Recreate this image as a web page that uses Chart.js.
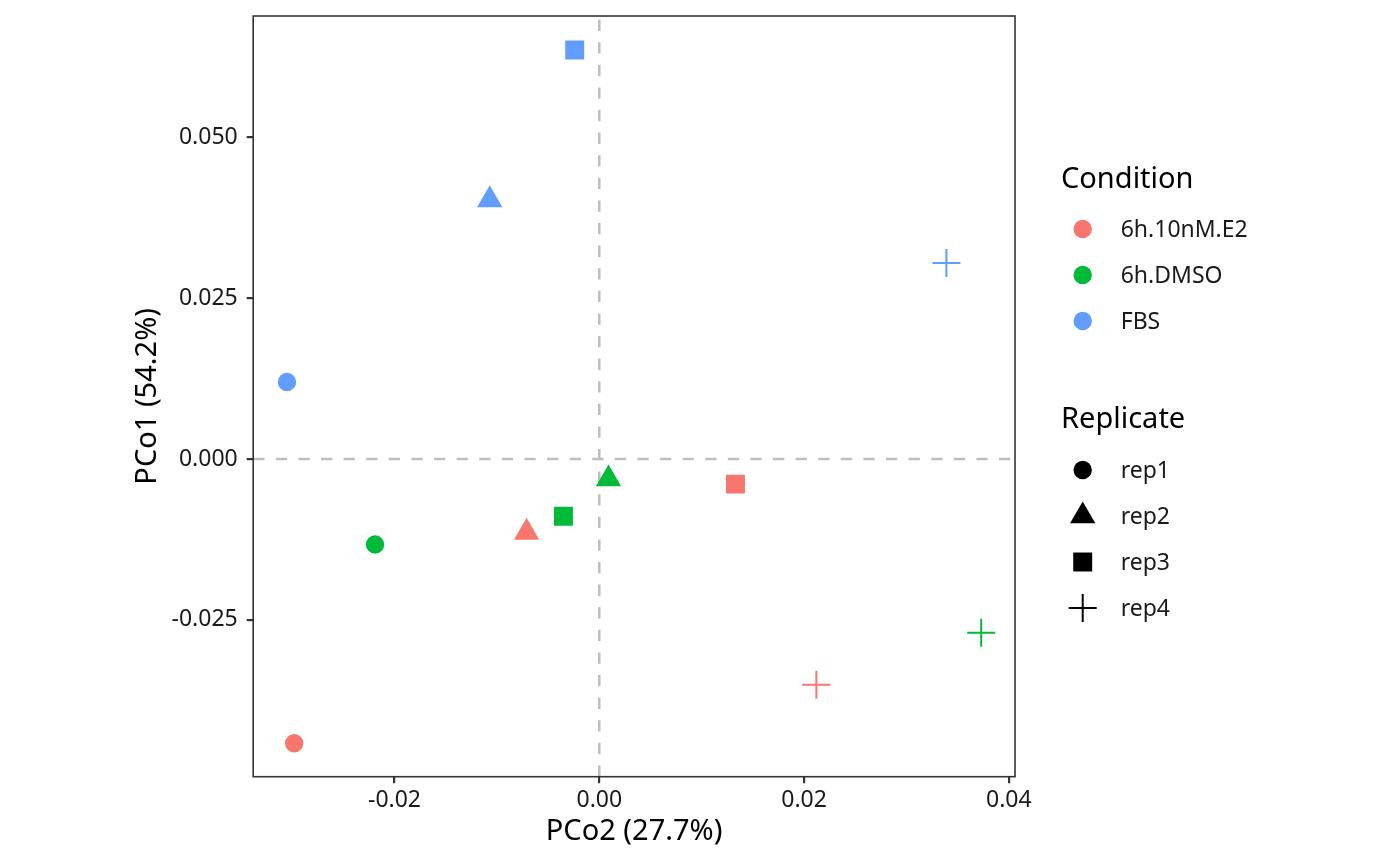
<!DOCTYPE html>
<html>
<head>
<meta charset="utf-8">
<script src="https://cdn.jsdelivr.net/npm/chart.js@4/dist/chart.umd.min.js"></script>
<style>
  html, body { margin: 0; padding: 0; background: #fff; }
  #wrap { width: 1400px; height: 866px; }
</style>
</head>
<body>
<div id="wrap"><canvas id="pcoa" width="1400" height="866"></canvas></div>
<script>
// PCoA scores, one pair of arrays per condition (rep1..rep4)
const conditions = ["6h.10nM.E2", "6h.DMSO", "FBS"];
const replicates = ["rep1", "rep2", "rep3", "rep4"];

const pco2E2   = [-0.0298, -0.0071,  0.0133,  0.0212];
const pco1E2   = [-0.0442, -0.0114, -0.0039, -0.0351];
const pco2DMSO = [-0.0219,  0.0009, -0.0035,  0.0373];
const pco1DMSO = [-0.0133, -0.0031, -0.0089, -0.0270];
const pco2FBS  = [-0.0305, -0.0107, -0.0024,  0.0339];
const pco1FBS  = [ 0.0120,  0.0403,  0.0636,  0.0305];

const xTicks = [-0.02, 0, 0.02, 0.04];
const yTicks = [-0.025, 0, 0.025, 0.05];
const xRange = [-0.0338, 0.0406];
const yRange = [-0.0494, 0.0689];

// styling
const COLORS = ["#F8766D", "#00BA38", "#619CFF"];
const SHAPES = ["circle", "triangle", "rect", "cross"];
const SHAPE_R = { circle: 9.2, triangle: 14.6, rect: 13.4, cross: 14 };
const FONT = "'Noto Sans', 'Open Sans', sans-serif";
const TICK_SIZE = 23;
const TITLE_SIZE = 29;

Chart.defaults.font.family = FONT;

const seriesX = [pco2E2, pco2DMSO, pco2FBS];
const seriesY = [pco1E2, pco1DMSO, pco1FBS];

const datasets = conditions.map((name, i) => ({
  label: name,
  data: seriesX[i].map((x, j) => ({ x: x, y: seriesY[i][j] })),
  pointStyle: SHAPES,
  pointRadius: SHAPES.map(s => SHAPE_R[s]),
  pointHoverRadius: SHAPES.map(s => SHAPE_R[s]),
  pointBackgroundColor: COLORS[i],
  pointBorderColor: COLORS[i],
  pointBorderWidth: SHAPES.map(s => s === "cross" ? 2 : 0),
  pointHoverBorderWidth: SHAPES.map(s => s === "cross" ? 2 : 0)
}));

// dashed lines through the origin, drawn under the points
const zeroLines = {
  id: "zeroLines",
  beforeDatasetsDraw(chart) {
    const { ctx, chartArea: a, scales } = chart;
    const x0 = scales.x.getPixelForValue(0);
    const y0 = scales.y.getPixelForValue(0);
    ctx.save();
    ctx.strokeStyle = "#BEBEBE";
    ctx.lineWidth = 2.5;
    ctx.setLineDash([11.3, 11.3]);
    ctx.beginPath();
    ctx.moveTo(a.left, y0); ctx.lineTo(a.right, y0);
    ctx.stroke();
    ctx.beginPath();
    ctx.moveTo(x0, a.bottom); ctx.lineTo(x0, a.top);
    ctx.stroke();
    ctx.restore();
  }
};

// panel border on top of everything in the plot area
const panelBorder = {
  id: "panelBorder",
  afterDatasetsDraw(chart) {
    const { ctx, chartArea: a } = chart;
    ctx.save();
    ctx.strokeStyle = "#333333";
    ctx.lineWidth = 1.6;
    ctx.strokeRect(a.left, a.top, a.right - a.left, a.bottom - a.top);
    ctx.restore();
  }
};

function drawShape(ctx, shape, x, y) {
  const r = SHAPE_R[shape];
  ctx.beginPath();
  if (shape === "circle") {
    ctx.arc(x, y, r, 0, Math.PI * 2);
    ctx.fill();
  } else if (shape === "triangle") {
    ctx.moveTo(x, y - r);
    ctx.lineTo(x + r * Math.sin(Math.PI / 3), y + r / 2);
    ctx.lineTo(x - r * Math.sin(Math.PI / 3), y + r / 2);
    ctx.closePath();
    ctx.fill();
  } else if (shape === "rect") {
    const h = r * Math.SQRT1_2;
    ctx.rect(x - h, y - h, 2 * h, 2 * h);
    ctx.fill();
  } else {
    ctx.lineWidth = 2;
    ctx.moveTo(x - r, y); ctx.lineTo(x + r, y);
    ctx.moveTo(x, y - r); ctx.lineTo(x, y + r);
    ctx.stroke();
  }
}

// two ggplot-style legends on the right
const ggLegend = {
  id: "ggLegend",
  afterDraw(chart) {
    const ctx = chart.ctx;
    const keyX = 1082.7, textX = 1120.7, left = 1061;
    ctx.save();
    ctx.textBaseline = "alphabetic";
    ctx.fillStyle = "#000";
    ctx.font = `${TITLE_SIZE}px ${FONT}`;
    ctx.fillText("Condition", left, 187.5);
    ctx.fillText("Replicate", left, 427.5);

    ctx.font = `${TICK_SIZE}px ${FONT}`;
    conditions.forEach((name, i) => {
      const y = 229 + i * 46;
      ctx.fillStyle = COLORS[i];
      drawShape(ctx, "circle", keyX, y);
      ctx.fillStyle = "#1a1a1a";
      ctx.fillText(name, textX, y + 8.2);
    });
    replicates.forEach((name, i) => {
      const y = 470 + i * 46;
      ctx.fillStyle = "#000";
      ctx.strokeStyle = "#000";
      drawShape(ctx, SHAPES[i], keyX, y);
      ctx.fillStyle = "#1a1a1a";
      ctx.fillText(name, textX, y + 8.2);
    });
    ctx.restore();
  }
};

new Chart(document.getElementById("pcoa"), {
  type: "scatter",
  data: { datasets },
  options: {
    responsive: false,
    animation: false,
    devicePixelRatio: 1,
    events: [],
    layout: { padding: { top: 14.7, right: 385, bottom: 0, left: 0 } },
    plugins: { legend: { display: false }, tooltip: { enabled: false } },
    scales: {
      x: {
        type: "linear",
        min: xRange[0], max: xRange[1],
        afterBuildTicks: s => { s.ticks = xTicks.map(v => ({ value: v })); },
        afterFit: s => { s.height = 89.3; s.paddingLeft = 0; s.paddingRight = 0; },
        border: { display: false },
        grid: { drawOnChartArea: false, drawTicks: true, tickLength: 6.5, tickColor: "#333333", lineWidth: 2.2 },
        ticks: {
          padding: 3,
          color: "#1a1a1a",
          font: { size: TICK_SIZE },
          maxRotation: 0,
          callback: v => v.toFixed(2)
        },
        title: {
          display: true,
          text: "PCo2 (27.7%)",
          color: "#000",
          font: { size: TITLE_SIZE },
          padding: { top: 0, bottom: 17 }
        }
      },
      y: {
        type: "linear",
        min: yRange[0], max: yRange[1],
        afterBuildTicks: s => { s.ticks = yTicks.map(v => ({ value: v })); },
        afterFit: s => { s.width = 253.2; s.paddingTop = 0; s.paddingBottom = 0; },
        border: { display: false },
        grid: { drawOnChartArea: false, drawTicks: true, tickLength: 6.5, tickColor: "#333333", lineWidth: 2.2 },
        ticks: {
          padding: 9,
          color: "#1a1a1a",
          font: { size: TICK_SIZE },
          callback: v => v.toFixed(3)
        },
        title: {
          display: true,
          text: "PCo1 (54.2%)",
          color: "#000",
          font: { size: TITLE_SIZE },
          padding: { top: 130, bottom: 0 }
        }
      }
    }
  },
  plugins: [zeroLines, panelBorder, ggLegend]
});
</script>
</body>
</html>
